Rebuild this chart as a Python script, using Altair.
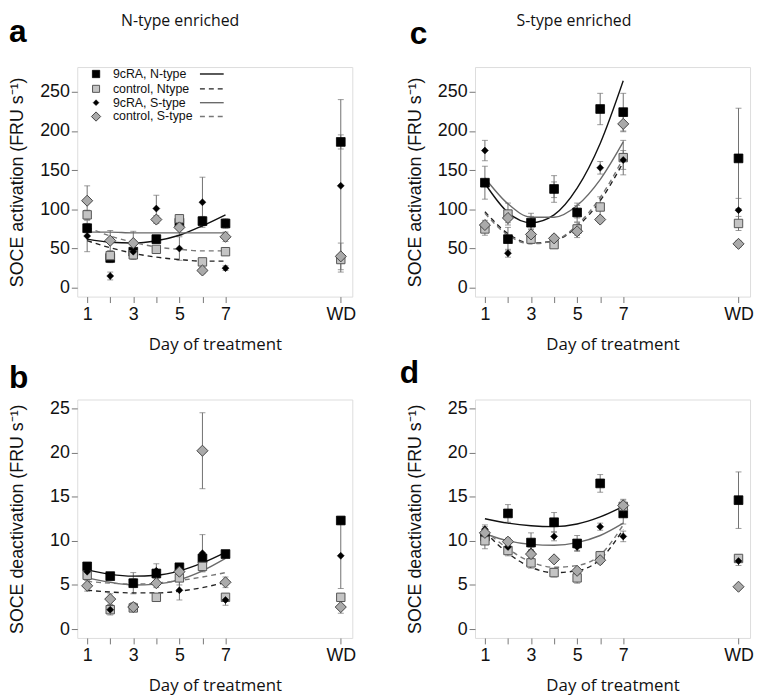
import altair as alt
import pandas as pd

# ---------------- data ----------------
days = [1, 2, 3, 4, 5, 6, 7, 12]          # 12 = WD (wash-out day)
curve_days = [1, 2, 3, 4, 5, 6, 7]
series = ["9cRA, N-type", "control, Ntype", "9cRA, S-type", "control, S-type"]

# Panel a: N-type enriched, SOCE activation
a_N9 = [76, 38, 46, 62, 83, 85, 82, 186]
a_NC = [93, 41, 42, 49, 88, 33, 46, 36]
a_S9 = [66, 15, 46, 101, 50, 109, 25, 130]
a_SC = [111, 60, 57, 87, 77, 22, 65, 40]
a_N9_err = [6, 6, 8, 5, 7, 6, 6, 9]
a_NC_err = [6, 6, 5, 4, 4, 4, 3, 4]
a_S9_err = [20, 5, 10, 17, 15, 32, 3, 110]
a_SC_err = [19, 13, 15, 5, 10, 4, 6, 17]
a_fit_N9 = [62, 58, 57, 60, 67, 79, 93]
a_fit_NC = [60, 51, 44, 39, 36, 34, 34]
a_fit_S9 = [71, 71, 70, 70, 70, 70, 70]
a_fit_SC = [77, 66, 58, 52, 49, 47, 47]

# Panel c: S-type enriched, SOCE activation
c_N9 = [134, 62, 83, 126, 96, 228, 224, 165]
c_NC = [75, 94, 62, 55, 75, 103, 166, 82]
c_S9 = [175, 44, 83, 125, 97, 153, 163, 99]
c_SC = [80, 89, 68, 63, 72, 87, 209, 56]
c_N9_err = [21, 15, 12, 17, 12, 20, 24, 64]
c_NC_err = [8, 14, 5, 4, 8, 13, 22, 9]
c_S9_err = [13, 5, 8, 10, 8, 8, 12, 15]
c_SC_err = [6, 6, 6, 4, 8, 4, 10, 4]
c_fit_N9 = [133, 96, 83, 93, 127, 184, 264]
c_fit_NC = [97, 69, 57, 60, 78, 111, 160]
c_fit_S9 = [140, 107, 90, 90, 105, 138, 186]
c_fit_SC = [95, 67, 56, 60, 80, 115, 165]

# Panel b: N-type enriched, SOCE deactivation
b_N9 = [7.1, 6.0, 5.2, 6.3, 7.0, 8.0, 8.5, 12.3]
b_NC = [6.1, 2.2, 2.4, 3.6, 5.8, 7.1, 3.6, 3.6]
b_S9 = [6.5, 2.2, 5.2, 6.6, 4.4, 8.6, 3.3, 8.3]
b_SC = [4.9, 3.4, 2.5, 5.2, 6.5, 20.2, 5.3, 2.5]
b_N9_err = [0.4, 0.3, 1.2, 0.4, 0.3, 0.5, 0.4, 0.4]
b_NC_err = [0.5, 0.3, 0.3, 0.3, 0.8, 0.6, 0.3, 0.3]
b_S9_err = [0.4, 0.6, 0.5, 0.8, 1.1, 2.1, 0.6, 3.7]
b_SC_err = [0.6, 0.6, 0.5, 0.5, 0.8, 4.3, 0.6, 0.7]
b_fit_N9 = [6.7, 6.2, 6.0, 6.1, 6.6, 7.5, 8.7]
b_fit_NC = [4.4, 4.2, 4.1, 4.1, 4.3, 4.7, 5.3]
b_fit_S9 = [5.8, 5.3, 5.0, 5.1, 5.6, 6.6, 8.0]
b_fit_SC = [5.4, 5.2, 5.1, 5.2, 5.5, 5.9, 6.4]

# Panel d: S-type enriched, SOCE deactivation
d_N9 = [10.5, 13.1, 9.8, 12.1, 9.7, 16.5, 13.1, 14.6]
d_NC = [10.0, 8.9, 7.5, 6.4, 5.8, 8.3, 13.9, 8.0]
d_S9 = [11.3, 9.3, 8.8, 10.5, 9.3, 11.6, 10.5, 7.7]
d_SC = [10.9, 9.9, 8.5, 7.9, 6.6, 7.8, 14.0, 4.8]
d_N9_err = [0.6, 1.0, 1.1, 1.1, 0.9, 1.0, 1.2, 3.2]
d_NC_err = [0.9, 0.6, 0.6, 0.5, 0.6, 0.5, 0.7, 0.4]
d_S9_err = [0.5, 0.4, 0.5, 0.5, 0.4, 0.4, 0.6, 0.5]
d_SC_err = [0.7, 0.4, 0.5, 0.3, 0.3, 0.4, 0.7, 0.2]
d_fit_N9 = [12.5, 12.0, 11.7, 11.6, 11.9, 12.7, 13.9]
d_fit_NC = [11.0, 8.6, 7.0, 6.4, 6.6, 7.9, 11.3]
d_fit_S9 = [10.8, 10.0, 9.6, 9.5, 9.8, 10.6, 12.0]
d_fit_SC = [11.2, 9.1, 7.6, 7.0, 7.2, 8.4, 11.8]

x_tick_values = [1, 2, 3, 4, 5, 6, 7, 12]
act_ticks = [0, 50, 100, 150, 200, 250]
deact_ticks = [0, 5, 10, 15, 20, 25]

# ---------------- styles ----------------
SANS = "Liberation Sans"
W = 278
POINT_STYLE = {
    "9cRA, N-type": dict(shape="square", size=78, fill="#000000", stroke="#000000", strokeWidth=0.8),
    "control, Ntype": dict(shape="square", size=72, fill="#c4c4c4", stroke="#555555", strokeWidth=1),
    "9cRA, S-type": dict(shape="diamond", size=50, fill="#000000", stroke="#000000", strokeWidth=0.5),
    "control, S-type": dict(shape="diamond", size=125, fill="#aaaaaa", stroke="#444444", strokeWidth=1),
}
LINE_STYLE = {
    "9cRA, N-type": dict(color="#111111", strokeWidth=1.4),
    "control, Ntype": dict(color="#222222", strokeWidth=1.4, strokeDash=[5, 4]),
    "9cRA, S-type": dict(color="#6a6a6a", strokeWidth=1.4),
    "control, S-type": dict(color="#777777", strokeWidth=1.4, strokeDash=[5, 4]),
}


def points_df(vals, errs):
    rows = []
    for s, v, e in zip(series, vals, errs):
        for d, y, er in zip(days, v, e):
            rows.append({"series": s, "x": d, "y": y, "lo": y - er, "hi": y + er})
    return pd.DataFrame(rows)


def curves_df(fits):
    rows = []
    for s, f in zip(series, fits):
        for d, y in zip(curve_days, f):
            rows.append({"series": s, "x": d, "y": y})
    return pd.DataFrame(rows)


def make_panel(vals, errs, fits, ydom, yticks, ytitle, height, letter, letter_xy,
               header=None, header_x=None, legend=False):
    pdf = points_df(vals, errs)
    cdf = curves_df(fits)
    xsc = alt.Scale(domain=[0.57, 12.5], nice=False, zero=False)
    ysc = alt.Scale(domain=ydom, nice=False, zero=False)
    xaxis = alt.Axis(values=x_tick_values, title="Day of treatment",
                     labelExpr="datum.value == 12 ? 'WD' : (datum.value % 2 == 1 ? datum.label : '')",
                     labelOverlap=False, labelFlush=False, grid=False, domain=False,
                     tickColor="#777", tickSize=6, labelPadding=3,
                     labelFont=SANS, labelFontSize=18, labelColor="#111",
                     titleFont="Open Sans", titleFontSize=17, titleFontWeight="normal",
                     titleColor="#111", titleY=48, titleBaseline="middle")
    yaxis = alt.Axis(values=yticks, title=ytitle, grid=False, domain=False,
                     tickColor="#777", tickSize=6, labelPadding=2,
                     labelFont=SANS, labelFontSize=18, labelColor="#111",
                     titleFont=SANS, titleFontSize=18, titleFontWeight="normal",
                     titleColor="#111", titleX=-60, titleY=height / 2,
                     titleBaseline="middle", titleAlign="center", titleAngle=-90)
    X = alt.X("x:Q", scale=xsc, axis=xaxis)
    Y = alt.Y("y:Q", scale=ysc, axis=yaxis)

    layers = []
    base = alt.Chart(pdf)
    layers.append(base.mark_rule(color="#707070", strokeWidth=1).encode(
        x=X, y=alt.Y("lo:Q", scale=ysc, axis=yaxis), y2="hi:Q"))
    for col in ["lo", "hi"]:
        layers.append(base.mark_tick(color="#707070", orient="horizontal", size=6,
                                     thickness=1).encode(
            x=X, y=alt.Y(f"{col}:Q", scale=ysc, axis=yaxis)))
    for s in series:
        layers.append(alt.Chart(cdf[cdf.series == s]).mark_line(
            interpolate="monotone", **LINE_STYLE[s]).encode(x=X, y=Y))
    for s in series:
        layers.append(alt.Chart(pdf[pdf.series == s]).mark_point(
            filled=True, opacity=1, **POINT_STYLE[s]).encode(x=X, y=Y))

    one = pd.DataFrame({"k": [0]})
    layers.append(alt.Chart(one).mark_text(
        text=letter, font=SANS, fontSize=32, fontWeight="bold", align="left",
        baseline="alphabetic", color="#000").encode(
        x=alt.value(letter_xy[0]), y=alt.value(letter_xy[1])))
    if header:
        layers.append(alt.Chart(one).mark_text(
            text=header, font="Open Sans", fontSize=16, align="center",
            baseline="top", color="#111").encode(
            x=alt.value(header_x), y=alt.value(-55)))
    if legend:
        rows_y = [7, 22, 36, 50]
        for s, ry in zip(series, rows_y):
            st = dict(POINT_STYLE[s])
            st["size"] = st["size"] * 0.7
            layers.append(alt.Chart(one).mark_point(filled=True, opacity=1, **st).encode(
                x=alt.value(19), y=alt.value(ry)))
            layers.append(alt.Chart(one).mark_text(
                text=s, font=SANS, fontSize=12.5, align="left", baseline="middle",
                color="#111").encode(x=alt.value(36), y=alt.value(ry)))
            ls = dict(LINE_STYLE[s])
            layers.append(alt.Chart(one).mark_rule(**ls).encode(
                x=alt.value(124), x2=alt.value(148), y=alt.value(ry)))
    return alt.layer(*layers).properties(width=W, height=height)


act_title = "SOCE activation (FRU s\u207b\u00b9)"
deact_title = "SOCE deactivation (FRU s\u207b\u00b9)"

pa = make_panel([a_N9, a_NC, a_S9, a_SC], [a_N9_err, a_NC_err, a_S9_err, a_SC_err],
                [a_fit_N9, a_fit_NC, a_fit_S9, a_fit_SC], [-11.3, 281.5], act_ticks,
                act_title, 232, "a", (-69, -25), header="N-type enriched", header_x=104,
                legend=True)
pc = make_panel([c_N9, c_NC, c_S9, c_SC], [c_N9_err, c_NC_err, c_S9_err, c_SC_err],
                [c_fit_N9, c_fit_NC, c_fit_S9, c_fit_SC], [-11.3, 281.5], act_ticks,
                act_title, 232, "c", (-66, -23), header="S-type enriched", header_x=100)
pb = make_panel([b_N9, b_NC, b_S9, b_SC], [b_N9_err, b_NC_err, b_S9_err, b_SC_err],
                [b_fit_N9, b_fit_NC, b_fit_S9, b_fit_SC], [-1.0, 26.0], deact_ticks,
                deact_title, 241, "b", (-69, -12))
pd_ = make_panel([d_N9, d_NC, d_S9, d_SC], [d_N9_err, d_NC_err, d_S9_err, d_SC_err],
                 [d_fit_N9, d_fit_NC, d_fit_S9, d_fit_SC], [-1.0, 26.0], deact_ticks,
                 deact_title, 241, "d", (-76, -17))

chart = alt.concat(pa, pc, pb, pd_, columns=2, bounds="flush",
                   spacing={"column": 124, "row": 104}).properties(
    padding={"left": 0, "top": 0, "right": 0, "bottom": 0}
).configure_view(stroke="#999999", strokeWidth=1.5).configure(background="white")

chart.save("out.html", embed_options={"renderer": "svg", "actions": False})
